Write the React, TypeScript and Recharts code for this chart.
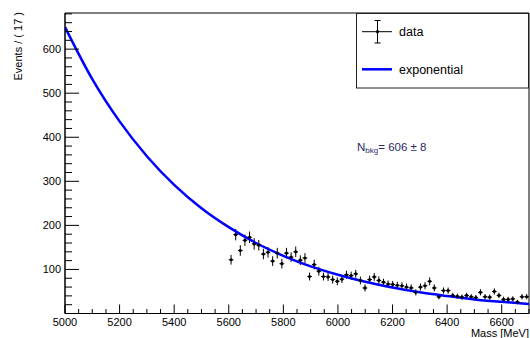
import { ComposedChart, Scatter, Line, XAxis, YAxis, ErrorBar, ReferenceArea } from 'recharts'

// histogram binning: 65 bins of ~17 MeV from 5600 to 6700
const BIN_LOW = 5600
const BIN_WIDTH = 16.92

const EVENTS = [
  122, 179, 143, 166, 173, 158, 155, 135, 139, 119,
  137, 113, 137, 128, 140, 121, 126, 84, 111, 96,
  84, 83, 77, 73, 78, 88, 86, 90, 75, 58,
  77, 83, 75, 71, 67, 66, 64, 63, 60, 58,
  48, 60, 63, 73, 58, 38, 52, 52, 41, 39,
  37, 41, 38, 36, 48, 38, 37, 50, 41, 32,
  32, 33, 26, 38, 38,
]

const EVENT_ERRORS = [
  11, 13, 12, 13, 13, 13, 12, 12, 12, 11,
  12, 11, 12, 11, 12, 11, 11, 9, 11, 10,
  9, 9, 9, 9, 9, 9, 9, 9, 9, 8,
  9, 9, 9, 8, 8, 8, 8, 8, 8, 8,
  7, 8, 8, 9, 8, 6, 7, 7, 6, 6,
  6, 6, 6, 6, 7, 6, 6, 7, 6, 6,
  6, 6, 5, 6, 6,
]

// exponential fit, read every 100 MeV
const FIT_MASS = [
  5000, 5100, 5200, 5300, 5400, 5500, 5600, 5700, 5800,
  5900, 6000, 6100, 6200, 6300, 6400, 6500, 6600, 6700,
]
const FIT_VALUES = [
  650, 532, 436, 357, 292, 239, 196, 160, 131,
  107, 88, 72, 59, 48, 39.5, 32, 26.5, 21.7,
]

const X_MAJOR = [5000, 5200, 5400, 5600, 5800, 6000, 6200, 6400, 6600]
const Y_MAJOR = [100, 200, 300, 400, 500, 600]
const X_DOMAIN: [number, number] = [5000, 6700]
const Y_DOMAIN: [number, number] = [0, 682]

const X_TICKS: number[] = []
for (let m = X_DOMAIN[0]; m <= X_DOMAIN[1]; m += 50) X_TICKS.push(m)
const Y_TICKS: number[] = []
for (let v = 20; v <= 680; v += 20) Y_TICKS.push(v)

const points = EVENTS.map((n, i) => ({
  m: BIN_LOW + (i + 0.5) * BIN_WIDTH,
  v: n,
  err: EVENT_ERRORS[i],
  half: BIN_WIDTH / 2,
}))
const fit = FIT_MASS.map((m, i) => ({ m, v: FIT_VALUES[i] }))

const FONT = '"Liberation Sans", Arial, Helvetica, sans-serif'

const XTick = (props: any) => {
  const { x, y, payload } = props
  const major = X_MAJOR.includes(payload.value)
  return (
    <g>
      <line x1={x} x2={x} y1={y} y2={y - (major ? 9 : 4.5)} stroke="#000" />
      {major && (
        <text x={x} y={y + 12.5} textAnchor="middle" fontSize={11} fontFamily={FONT} fill="#000">
          {payload.value}
        </text>
      )}
    </g>
  )
}

const YTick = (props: any) => {
  const { x, y, payload } = props
  const major = Y_MAJOR.includes(payload.value)
  return (
    <g>
      <line x1={x} x2={x + (major ? 14 : 7)} y1={y} y2={y} stroke="#000" />
      {major && (
        <text x={x - 4} y={y} dy={4} textAnchor="end" fontSize={11} fontFamily={FONT} fill="#000">
          {payload.value}
        </text>
      )}
    </g>
  )
}

const Dot = (props: any) => <circle cx={props.cx} cy={props.cy} r={1.6} fill="#000" />

export default function App() {
  return (
    <div style={{ position: 'absolute', left: 0, top: 0, width: 530, height: 338, background: '#fff' }}>
      <ComposedChart width={530} height={338} margin={{ top: 13, right: 1, bottom: 0, left: 0 }}>
        <XAxis
          type="number"
          dataKey="m"
          domain={X_DOMAIN}
          allowDataOverflow
          ticks={X_TICKS}
          interval={0}
          tick={<XTick />}
          tickLine={false}
          tickSize={0}
          tickMargin={0}
          height={24.5}
          axisLine={{ stroke: '#000' }}
        />
        <YAxis
          type="number"
          dataKey="v"
          domain={Y_DOMAIN}
          allowDataOverflow
          ticks={Y_TICKS}
          interval={0}
          tick={<YTick />}
          tickLine={false}
          tickSize={0}
          tickMargin={0}
          width={65}
          axisLine={{ stroke: '#000' }}
        />
        <ReferenceArea
          x1={X_DOMAIN[0]}
          x2={X_DOMAIN[1]}
          y1={Y_DOMAIN[0]}
          y2={Y_DOMAIN[1]}
          fill="none"
          stroke="#000"
          strokeWidth={1}
          ifOverflow="visible"
        />
        <Scatter data={points} dataKey="v" shape={<Dot />} isAnimationActive={false}>
          <ErrorBar dataKey="err" direction="y" width={0} stroke="#000" strokeWidth={1} isAnimationActive={false} />
          <ErrorBar dataKey="half" direction="x" width={0} stroke="#000" strokeWidth={1} isAnimationActive={false} />
        </Scatter>
        <Line
          data={fit}
          dataKey="v"
          type="monotone"
          stroke="#0000ff"
          strokeWidth={2.5}
          dot={false}
          isAnimationActive={false}
        />
      </ComposedChart>
      <svg
        width={530}
        height={338}
        style={{ position: 'absolute', left: 0, top: 0, pointerEvents: 'none' }}
        fontFamily={FONT}
      >
        <text x={21.5} y={12} transform="rotate(-90 21.5 12)" textAnchor="end" fontSize={11} fill="#000">
          Events / ( 17 )
        </text>
        <text x={529} y={336.5} textAnchor="end" fontSize={11} fill="#000">
          Mass [MeV]
        </text>
        <rect x={356.5} y={13.5} width={172} height={74.5} fill="#fff" stroke="#222" />
        <line x1={362} x2={392} y1={31.7} y2={31.7} stroke="#000" />
        <line x1={377.5} x2={377.5} y1={20.5} y2={43} stroke="#000" />
        <line x1={374.5} x2={380.5} y1={20.5} y2={20.5} stroke="#000" />
        <line x1={374.5} x2={380.5} y1={43} y2={43} stroke="#000" />
        <circle cx={377.5} cy={31.7} r={1.6} fill="#000" />
        <text x={399} y={36} fontSize={12.5} fill="#000">data</text>
        <line x1={362} x2={392} y1={69.3} y2={69.3} stroke="#0000ff" strokeWidth={2.5} />
        <text x={399} y={73.5} fontSize={12.5} fill="#000">exponential</text>
        <text x={357} y={150.5} fontSize={11.5} fill="#2b2b66">
          N<tspan fontSize={8} dy={2.5}>bkg</tspan>
          <tspan dy={-2.5}>= 606 ± 8</tspan>
        </text>
      </svg>
    </div>
  )
}
